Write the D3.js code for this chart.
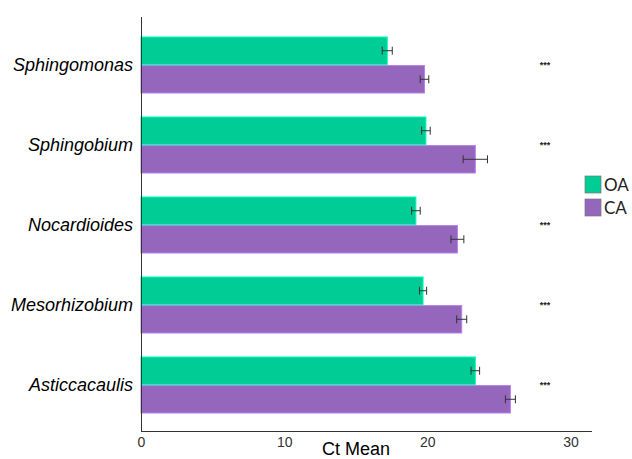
<!DOCTYPE html>
<html>
<head>
<meta charset="UTF-8">
<title>Ct Mean</title>
<script src="https://cdn.jsdelivr.net/npm/d3@7"></script>
<style>
body { margin: 0; background: #fff; }
.genus { font: italic 18px "Liberation Sans", Arial, sans-serif; fill: #000; }
.tick text { font: 14px "Liberation Sans", Arial, sans-serif; fill: #333; }
.xlabel { font: 18px "Liberation Sans", Arial, sans-serif; fill: #000; }
.legend text { font: 17px Lato, sans-serif; fill: #222; }
.stars { font: bold 9px "Liberation Sans", Arial, sans-serif; fill: #222; }
</style>
</head>
<body>
<svg width="632" height="459"></svg>
<script>
var genera = ["Sphingomonas", "Sphingobium", "Nocardioides", "Mesorhizobium", "Asticcacaulis"];
var groups = ["OA", "CA"];
var oaMean = [17.2, 19.9, 19.2, 19.7, 23.35];
var oaErr  = [0.35, 0.3, 0.3, 0.25, 0.3];
var caMean = [19.8, 23.35, 22.1, 22.4, 25.8];
var caErr  = [0.3, 0.85, 0.45, 0.35, 0.35];
var stars  = ["***", "***", "***", "***", "***"];
var xTicks = [0, 10, 20, 30];

var colors = {OA: "#00cc96", CA: "#9467bd"};

var svg = d3.select("svg");

var x = d3.scaleLinear().domain([0, 31.5]).range([141, 592]);
var y = d3.scaleBand().domain(genera).range([25, 425]).paddingInner(0.3).paddingOuter(0.15);
var yIn = d3.scaleBand().domain(groups).range([0, y.bandwidth()]).paddingInner(0.04);

var rows = [];
genera.forEach(function(g, i) {
  rows.push({genus: g, grp: "OA", mean: oaMean[i], err: oaErr[i]});
  rows.push({genus: g, grp: "CA", mean: caMean[i], err: caErr[i]});
});

svg.selectAll("rect.bar")
  .data(rows)
  .enter().append("rect")
    .attr("class", "bar")
    .attr("x", x(0))
    .attr("y", function(d) { return y(d.genus) + yIn(d.grp); })
    .attr("width", function(d) { return x(d.mean) - x(0); })
    .attr("height", yIn.bandwidth())
    .attr("fill", function(d) { return colors[d.grp]; })
    .attr("stroke", function(d) { return d3.color(colors[d.grp]).brighter(0.6); })
    .attr("stroke-width", 1);

// error bars
var eb = svg.selectAll("g.err")
  .data(rows)
  .enter().append("g")
    .attr("class", "err")
    .attr("transform", function(d) { return "translate(0," + (y(d.genus) + yIn(d.grp) + yIn.bandwidth() / 2) + ")"; })
    .attr("stroke", "#333")
    .attr("stroke-width", 1);
eb.append("line")
  .attr("x1", function(d) { return x(d.mean - d.err); })
  .attr("x2", function(d) { return x(d.mean + d.err); });
eb.append("line")
  .attr("x1", function(d) { return x(d.mean - d.err); })
  .attr("x2", function(d) { return x(d.mean - d.err); })
  .attr("y1", -4).attr("y2", 4);
eb.append("line")
  .attr("x1", function(d) { return x(d.mean + d.err); })
  .attr("x2", function(d) { return x(d.mean + d.err); })
  .attr("y1", -4).attr("y2", 4);

// significance stars
svg.selectAll("text.stars")
  .data(genera)
  .enter().append("text")
    .attr("class", "stars")
    .attr("x", 545)
    .attr("y", function(d) { return y(d) + y.bandwidth() / 2 + 3; })
    .attr("text-anchor", "middle")
    .text(function(d, i) { return stars[i]; });

// genus labels
svg.selectAll("text.genus")
  .data(genera)
  .enter().append("text")
    .attr("class", "genus")
    .attr("x", 133)
    .attr("y", function(d) { return y(d) + y.bandwidth() / 2 + 6; })
    .attr("text-anchor", "end")
    .text(function(d) { return d; });

// axes
svg.append("line")
  .attr("x1", 141.5).attr("x2", 141.5).attr("y1", 17).attr("y2", 431.5)
  .attr("stroke", "#333");
var xAxis = svg.append("g")
  .attr("transform", "translate(0,431.5)")
  .call(d3.axisBottom(x).tickValues(xTicks).tickSize(0).tickPadding(6));
xAxis.select(".domain").attr("stroke", "#333").attr("d", "M141,0H592");

svg.append("text")
  .attr("class", "xlabel")
  .attr("x", 356).attr("y", 455)
  .attr("text-anchor", "middle")
  .text("Ct Mean");

// legend
var leg = svg.selectAll("g.legend")
  .data(groups)
  .enter().append("g")
    .attr("class", "legend")
    .attr("transform", function(d, i) { return "translate(585," + (176 + i * 23) + ")"; });
leg.append("rect")
  .attr("width", 16).attr("height", 17)
  .attr("fill", function(d) { return colors[d]; })
  .attr("stroke", "#777").attr("stroke-width", 0.7);
leg.append("text")
  .attr("x", 19).attr("y", 15)
  .text(function(d) { return d; });
</script>
</body>
</html>
